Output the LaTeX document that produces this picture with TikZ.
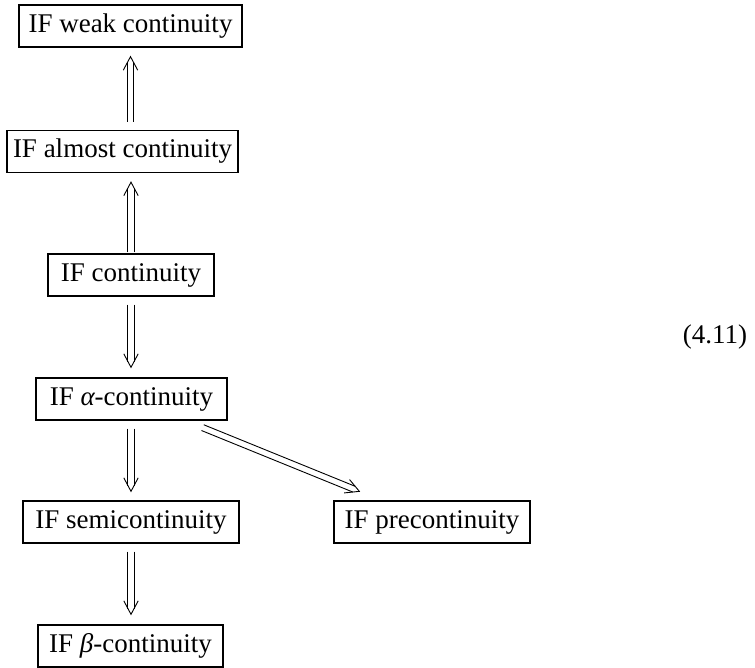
\documentclass[tikz,border=0pt]{standalone}
\usepackage{fontspec}
\setmainfont{Liberation Serif}
\usetikzlibrary{calc}
\newcommand\implarrow[2]{%
  \draw[arrline,shorten >=5.8pt] ($(#1)!3.1pt!90:(#2)$) -- ($(#2)!3.1pt!-90:(#1)$);
  \draw[arrline,shorten >=5.8pt] ($(#1)!3.1pt!-90:(#2)$) -- ($(#2)!3.1pt!90:(#1)$);
  \draw[arrline,line join=miter] ($(#2)!13.5pt!(#1)!7.2pt!90:(#2)$) -- (#2)
    -- ($(#2)!13.5pt!(#1)!7.2pt!-90:(#2)$);}
\begin{document}
\begin{tikzpicture}[x=1pt,y=-1pt,
  box/.style={draw,line width=1.3pt,inner sep=0pt,minimum height=42pt,
    font=\fontsize{27}{32}\selectfont},
  arrline/.style={draw,black,line width=0.9pt}]
\useasboundingbox (0,0) rectangle (755,668);
\node[box,minimum width=223pt] (weak) at (130.5,26) {IF weak continuity};
\node[box,minimum width=231pt] (almost) at (122.5,151.5) {IF almost continuity};
\node[box,minimum width=166pt] (cont) at (131,275) {IF continuity};
\node[box,minimum width=191pt] (alpha) at (131.5,399) {IF {\itshape α}-continuity};
\node[box,minimum width=216pt] (semi) at (131,522) {IF semicontinuity};
\node[box,minimum width=196pt] (pre) at (432,522) {IF precontinuity};
\node[box,minimum width=185pt] (beta) at (130.5,646) {IF {\itshape β}-continuity};
\node[font=\fontsize{27}{32}\selectfont] (eq) at (715,337) {(4.11)};
\coordinate (a1s) at ($(almost.north -| weak.south)+(0,-8)$);
\coordinate (a1e) at ($(weak.south)+(0,9)$);
\coordinate (a2s) at ($(cont.north)+(0,-1)$);
\coordinate (a2e) at ($(cont.north |- almost.south)+(0,9)$);
\coordinate (a3s) at ($(cont.south)+(0,8)$);
\coordinate (a3e) at ($(alpha.north -| cont.south)+(0,-10)$);
\coordinate (a4s) at ($(alpha.south -| cont.south)+(0,8)$);
\coordinate (a4e) at ($(semi.north -| cont.south)+(0,-9)$);
\coordinate (a5s) at ($(semi.south -| cont.south)+(0,8)$);
\coordinate (a5e) at ($(beta.north -| cont.south)+(0,-10)$);
\coordinate (a6s) at ($(alpha.south east)+(-25,7)$);
\coordinate (a6e) at ($(pre.north west)+(26,-9)$);
\implarrow{a1s}{a1e}
\implarrow{a2s}{a2e}
\implarrow{a3s}{a3e}
\implarrow{a4s}{a4e}
\implarrow{a5s}{a5e}
\implarrow{a6s}{a6e}
\end{tikzpicture}
\end{document}
